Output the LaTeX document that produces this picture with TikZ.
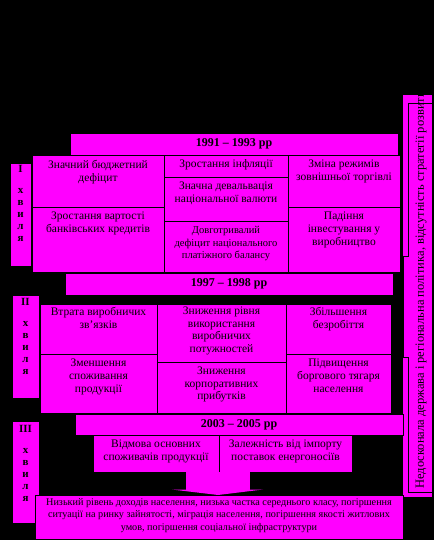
\documentclass[tikz,border=0pt]{standalone}
\usepackage{fontspec}
\setmainfont{Liberation Serif}
\definecolor{pinkbox}{RGB}{255,0,255}

\begin{document}
\begin{tikzpicture}[x=1pt, y=-1pt, line width=0.9pt,
    box/.style={fill=pinkbox, draw=black},
    celltext/.style={anchor=north, align=center, inner sep=0pt, font=\fontsize{11.5}{13}\selectfont},
    headtext/.style={inner sep=0pt, font=\fontsize{12}{14}\selectfont\bfseries},
    wavetext/.style={anchor=north, align=center, inner sep=0pt, font=\fontsize{11}{12}\selectfont\bfseries}]

    % background
    \fill[black] (0,0) rectangle (434,540);
    \useasboundingbox (0,0) rectangle (434,540);

    % right column
    \fill[pinkbox] (403,95) rectangle (432,497);
    \begin{scope}
        \clip (409,96) rectangle (432,492);
        \node[rotate=90, anchor=west, inner sep=0pt, font=\fontsize{12.5}{14}\selectfont] (cause) at (421,489)
            {Недосконала держава і регіональна політика, відсутність стратегії розвитку};
    \end{scope}
    \draw (432,103) -- (408,103) -- (408,256) -- (403,256) -- (403,357) -- (408,357) -- (408,492) -- (432,492);

    % first wave
    \filldraw[box] (70,133) rectangle (398,155);
    \node[headtext] (head1) at (234,144) {1991 – 1993 рр};
    \filldraw[box] (10,163) rectangle (31,266);
    \node[wavetext] (wave1) at (20.5,165) {I\\[9pt]х\\в\\и\\л\\я};
    \filldraw[box] (32,155) rectangle (164,207);
    \filldraw[box] (32,207) rectangle (164,272);
    \filldraw[box] (164,155) rectangle (288,177);
    \filldraw[box] (164,177) rectangle (288,221);
    \filldraw[box] (164,221) rectangle (288,272);
    \filldraw[box] (288,155) rectangle (400,207);
    \filldraw[box] (288,207) rectangle (400,272);
    \node[celltext] (deficit) at (98,159.5) {Значний бюджетний\\дефіцит};
    \node[celltext] (credit) at (98,211.5) {Зростання вартості\\банківських кредитів};
    \node[celltext] (inflation) at (226,159.5) {Зростання інфляції};
    \node[celltext] (devaluation) at (226,181.5) {Значна девальвація\\національної валюти};
    \node[celltext, font=\fontsize{10.5}{12.5}\selectfont] (balance) at (226,226) {Довготривалий\\дефіцит національного\\платіжного балансу};
    \node[celltext] (trade) at (344,159.5) {Зміна режимів\\зовнішньої торгівлі};
    \node[celltext] (invest) at (344,211.5) {Падіння\\інвестування у\\виробництво};

    % second wave
    \filldraw[box] (65,273) rectangle (393,295);
    \node[headtext] (head2) at (229,284) {1997 – 1998 рр};
    \filldraw[box] (12,295) rectangle (39,398);
    \node[wavetext] (wave2) at (25.5,298) {II\\[9pt]х\\в\\и\\л\\я};
    \filldraw[box] (40,304) rectangle (157,354);
    \filldraw[box] (40,354) rectangle (157,413);
    \filldraw[box] (157,304) rectangle (286,362);
    \filldraw[box] (157,362) rectangle (286,413);
    \filldraw[box] (286,304) rectangle (391,354);
    \filldraw[box] (286,354) rectangle (391,413);
    \node[celltext] (links) at (98.5,306.5) {Втрата виробничих\\зв’язків};
    \node[celltext] (consumption) at (98.5,358.5) {Зменшення\\споживання\\продукції};
    \node[celltext, font=\fontsize{11.5}{12.6}\selectfont] (capacity) at (221.5,306.5) {Зниження рівня\\використання\\виробничих\\потужностей};
    \node[celltext, font=\fontsize{11.5}{12.6}\selectfont] (profits) at (221.5,366.5) {Зниження\\корпоративних\\прибутків};
    \node[celltext] (unemployment) at (338.5,306.5) {Збільшення\\безробіття};
    \node[celltext] (debt) at (338.5,358.5) {Підвищення\\боргового тягаря\\населення};

    % third wave
    \filldraw[box] (75,414) rectangle (403,435);
    \node[headtext] (head3) at (239,424.5) {2003 – 2005 рр};
    \filldraw[box] (12,421) rectangle (39,523);
    \node[wavetext] (wave3) at (25.5,425) {III\\[9pt]х\\в\\и\\л\\я};
    \filldraw[box] (93,435) rectangle (219,472);
    \filldraw[box] (219,435) rectangle (352,472);
    \node[celltext] (refusal) at (156,439.5) {Відмова основних\\споживачів продукції};
    \node[celltext] (imports) at (285.5,439.5) {Залежність від імпорту\\поставок енергоносіїв};

    % block arrow
    \fill[pinkbox] (186,472) rectangle (250,490);
    \fill[pinkbox] (172,489.5) -- (263,489.5) -- (218,495) -- cycle;

    % result
    \filldraw[box] (35,495) rectangle (403,539);
    \node[celltext, font=\fontsize{10.2}{12.5}\selectfont] (result) at (219,498)
        {Низький рівень доходів населення, низька частка середнього класу, погіршення\\
         ситуації на ринку зайнятості, міграція населення, погіршення якості житлових\\
         умов, погіршення соціальної інфраструктури};

\end{tikzpicture}
\end{document}
